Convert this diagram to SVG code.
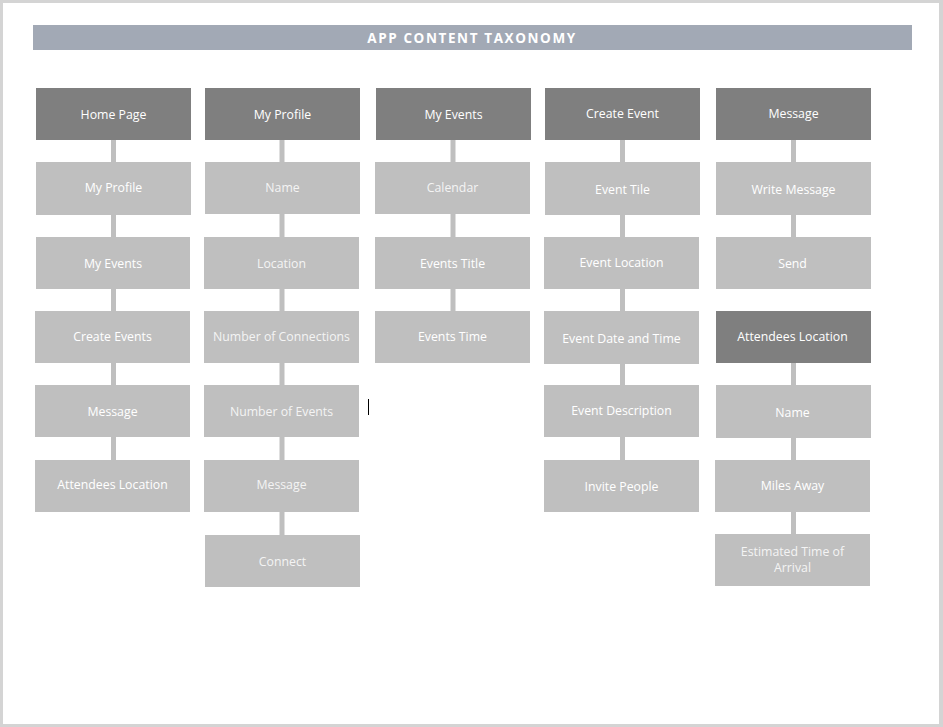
<svg xmlns="http://www.w3.org/2000/svg" width="943" height="727" viewBox="0 0 943 727">
<style>
.dk{fill:#7f7f7f}
.lt{fill:#bfbfbf}
.t{font-family:"Open Sans","Noto Sans",sans-serif;font-size:12.3px;fill:#ffffff;text-anchor:middle;dominant-baseline:central}
.tl{fill:#f4f4f4}
.c{stroke:#bfbfbf;stroke-width:5}
</style>
<rect x="0" y="0" width="943" height="727" fill="#d4d4d4"/>
<rect x="3" y="3" width="936" height="721" fill="#ffffff"/>
<g id="title">
<rect x="33" y="25" width="879" height="25" fill="#a2a9b5"/>
<text x="472" y="37.5" font-family="'Open Sans','Noto Sans',sans-serif" font-size="13.5" font-weight="bold" fill="#ffffff" text-anchor="middle" dominant-baseline="central" letter-spacing="1.6">APP CONTENT TAXONOMY</text>
</g>
<g id="connectors">
<line class="c" x1="113.5" y1="140" x2="113.5" y2="460"/>
<line class="c" x1="282" y1="140" x2="282" y2="535"/>
<line class="c" x1="453" y1="140" x2="453" y2="311"/>
<line class="c" x1="622.5" y1="140" x2="622.5" y2="460"/>
<line class="c" x1="793.5" y1="140" x2="793.5" y2="237"/>
<line class="c" x1="793.5" y1="363" x2="793.5" y2="534"/>
</g>
<g id="n-home-page"><rect class="dk" x="36" y="88" width="155" height="52"/><text class="t" x="113.5" y="114.5">Home Page</text></g>
<g id="n-home-my-profile"><rect class="lt" x="36" y="162" width="155" height="53"/><text class="t" x="113.5" y="187.5">My Profile</text></g>
<g id="n-home-my-events"><rect class="lt" x="36" y="237" width="154" height="52"/><text class="t" x="113" y="263.5">My Events</text></g>
<g id="n-home-create-events"><rect class="lt" x="35" y="311" width="155" height="52"/><text class="t" x="112.5" y="336.5">Create Events</text></g>
<g id="n-home-message"><rect class="lt" x="35" y="385" width="155" height="52"/><text class="t" x="112.5" y="411.5">Message</text></g>
<g id="n-home-attendees-location"><rect class="lt" x="35" y="460" width="155" height="52"/><text class="t" x="112.5" y="484.5">Attendees Location</text></g>

<g id="n-my-profile"><rect class="dk" x="205" y="88" width="155" height="52"/><text class="t" x="282.5" y="114.5">My Profile</text></g>
<g id="n-profile-name"><rect class="lt" x="205" y="162" width="155" height="52"/><text class="t tl" x="282.5" y="187.5">Name</text></g>
<g id="n-profile-location"><rect class="lt" x="204" y="237" width="155" height="52"/><text class="t tl" x="281.5" y="263.5">Location</text></g>
<g id="n-profile-connections"><rect class="lt" x="204" y="311" width="155" height="52"/><text class="t tl" x="281.5" y="336.5">Number of Connections</text></g>
<g id="n-profile-events"><rect class="lt" x="204" y="385" width="155" height="52"/><text class="t tl" x="281.5" y="411.5">Number of Events</text></g>
<g id="n-profile-message"><rect class="lt" x="204" y="460" width="155" height="52"/><text class="t tl" x="281.5" y="484.5">Message</text></g>
<g id="n-profile-connect"><rect class="lt" x="205" y="535" width="155" height="52"/><text class="t tl" x="282.5" y="561.5">Connect</text></g>

<g id="n-my-events"><rect class="dk" x="376" y="88" width="155" height="52"/><text class="t" x="453.5" y="114.5">My Events</text></g>
<g id="n-events-calendar"><rect class="lt" x="375" y="162" width="155" height="52"/><text class="t tl" x="452.5" y="187.5">Calendar</text></g>
<g id="n-events-title"><rect class="lt" x="375" y="237" width="155" height="52"/><text class="t" x="452.5" y="263.5">Events Title</text></g>
<g id="n-events-time"><rect class="lt" x="375" y="311" width="155" height="52"/><text class="t" x="452.5" y="336.5">Events Time</text></g>

<g id="n-create-event"><rect class="dk" x="545" y="88" width="155" height="52"/><text class="t" x="622.5" y="113.5">Create Event</text></g>
<g id="n-event-tile"><rect class="lt" x="545" y="162" width="155" height="53"/><text class="t" x="622.5" y="189.5">Event Tile</text></g>
<g id="n-event-location"><rect class="lt" x="544" y="237" width="155" height="52"/><text class="t" x="621.5" y="262.5">Event Location</text></g>
<g id="n-event-date-time"><rect class="lt" x="544" y="311" width="155" height="53"/><text class="t" x="621.5" y="338.5">Event Date and Time</text></g>
<g id="n-event-description"><rect class="lt" x="544" y="385" width="155" height="52"/><text class="t" x="621.5" y="410.5">Event Description</text></g>
<g id="n-invite-people"><rect class="lt" x="544" y="460" width="155" height="52"/><text class="t" x="621.5" y="486.5">Invite People</text></g>

<g id="n-message"><rect class="dk" x="716" y="88" width="155" height="52"/><text class="t" x="793.5" y="113.5">Message</text></g>
<g id="n-write-message"><rect class="lt" x="716" y="162" width="155" height="53"/><text class="t" x="793.5" y="189.5">Write Message</text></g>
<g id="n-send"><rect class="lt" x="716" y="237" width="155" height="52"/><text class="t" x="792.5" y="263.5">Send</text></g>
<g id="n-attendees-location"><rect class="dk" x="716" y="311" width="155" height="52"/><text class="t" x="792.5" y="336.5">Attendees Location</text></g>
<g id="n-att-name"><rect class="lt" x="716" y="385" width="155" height="53"/><text class="t" x="792.5" y="412.5">Name</text></g>
<g id="n-miles-away"><rect class="lt" x="715" y="460" width="155" height="52"/><text class="t" x="792.5" y="485.5">Miles Away</text></g>
<g id="n-eta"><rect class="lt" x="715" y="534" width="155" height="52"/><text class="t tl" x="792.5" y="551">Estimated Time of</text><text class="t tl" x="792.5" y="567">Arrival</text></g>
<line x1="368.5" y1="399" x2="368.5" y2="415" stroke="#000000" stroke-width="1"/>
</svg>
